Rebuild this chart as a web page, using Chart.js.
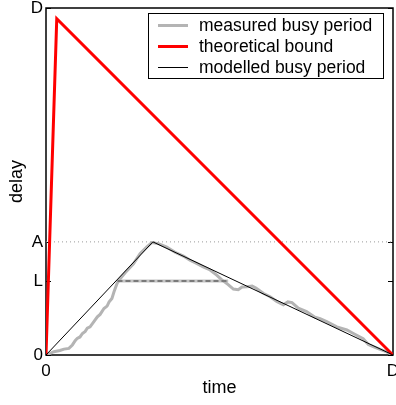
<!DOCTYPE html>
<html>
<head>
<meta charset="utf-8">
<script src="https://cdn.jsdelivr.net/npm/chart.js@4/dist/chart.umd.min.js"></script>
<style>
  html, body { margin: 0; padding: 0; background: #fff; }
  #wrap { width: 396px; height: 405px; }
</style>
</head>
<body>
<div id="wrap"><canvas id="c" width="396" height="405"></canvas></div>
<script>
// Normalised time / delay, both running from 0 to D (= 1).
const levelL = 0.213;
const levelA = 0.326;

// Axis ticks
const xTickValues = [0, 1];
const xTickLabels = ['0', 'D'];
const yTickValues = [0, levelL, levelA, 1];
const yTickLabels = ['0', 'L', 'A', 'D'];

// Measured busy period (time, delay)
const measuredTime = [0, 0.023, 0.040, 0.052, 0.066, 0.076, 0.084, 0.090, 0.098, 0.105,
  0.113, 0.119, 0.127, 0.138, 0.148, 0.156, 0.167, 0.176, 0.182, 0.190,
  0.196, 0.205, 0.213, 0.228, 0.252, 0.271, 0.290, 0.305,
  0.324, 0.348, 0.372, 0.396, 0.415, 0.434, 0.453, 0.473, 0.492, 0.506,
  0.525, 0.540, 0.554, 0.565, 0.579, 0.594, 0.605, 0.626, 0.646, 0.665,
  0.684, 0.697, 0.709, 0.727, 0.751, 0.775, 0.790, 0.809, 0.838, 0.867,
  0.886, 0.914, 0.929, 0.943, 0.963, 0.982, 1];
const measuredDelay = [0, 0.0095, 0.013, 0.017, 0.019, 0.029, 0.041, 0.048, 0.052, 0.062,
  0.068, 0.077, 0.081, 0.096, 0.110, 0.117, 0.134, 0.141, 0.153, 0.163,
  0.182, 0.207, 0.219, 0.237, 0.263, 0.292, 0.311, 0.324,
  0.321, 0.311, 0.296, 0.285, 0.273, 0.264, 0.254, 0.245, 0.230, 0.217,
  0.203, 0.190, 0.188, 0.196, 0.197, 0.199, 0.193, 0.178, 0.168, 0.154,
  0.145, 0.153, 0.151, 0.135, 0.125, 0.109, 0.105, 0.096, 0.081, 0.072,
  0.062, 0.047, 0.030, 0.024, 0.016, 0.009, 0];

// Theoretical bound (time, delay)
const boundTime = [0, 0.031, 1];
const boundDelay = [0, 0.969, 0];

// Modelled busy period (time, delay)
const modelTime = [0, 0.308, 1];
const modelDelay = [0, levelA, 0];

// Plateau of the measured period at level L
const plateauTime = [0.206, 0.525];

const pts = (xs, ys) => xs.map((x, i) => ({ x: x, y: ys[i] }));
const FONT = 'Liberation Sans, Arial, Helvetica, sans-serif';

const datasets = [
  { label: 'modelled busy period', data: pts(modelTime, modelDelay),
    borderColor: '#000000', borderWidth: 1, order: 0, inLegend: true, legendIndex: 2 },
  { label: 'theoretical bound', data: pts(boundTime, boundDelay),
    borderColor: '#ff0000', borderWidth: 3, order: 1, inLegend: true, legendIndex: 1 },
  { label: 'measured busy period', data: pts(measuredTime, measuredDelay),
    borderColor: '#b4b4b4', borderWidth: 3, order: 3, inLegend: true, legendIndex: 0 },
  { label: 'L level', data: pts(plateauTime, [levelL, levelL]),
    borderColor: '#c4c4c4', borderWidth: 3, order: 4 },
  { label: 'L level dashes', data: pts(plateauTime, [levelL, levelL]),
    borderColor: '#7a7a7a', borderWidth: 2, borderDash: [5, 3], order: 2 },
  { label: 'A level', data: pts([0, 1], [levelA, levelA]),
    borderColor: '#9a9a9a', borderWidth: 1, borderDash: [1, 3], order: 5 }
];
datasets.forEach(d => { d.showLine = true; d.pointRadius = 0; d.tension = 0; d.fill = false; });

// Box round the plot area, drawn under the data
const frame = {
  id: 'frame',
  beforeDatasetsDraw(chart) {
    const { ctx, chartArea: a } = chart;
    ctx.save();
    ctx.strokeStyle = '#000';
    ctx.lineWidth = 1.5;
    ctx.strokeRect(a.left, a.top, a.right - a.left, a.bottom - a.top);
    // inward tick marks on both vertical edges
    const ys = chart.scales.y;
    ctx.lineWidth = 1;
    yTickValues.forEach(v => {
      const py = Math.round(ys.getPixelForValue(v)) + 0.5;
      ctx.beginPath();
      ctx.moveTo(a.left, py); ctx.lineTo(a.left + 5, py);
      ctx.moveTo(a.right - 5, py); ctx.lineTo(a.right, py);
      ctx.stroke();
    });
    ctx.restore();
  }
};

// Legend box in the upper right corner
const legendBox = {
  id: 'legendBox',
  afterDatasetsDraw(chart) {
    const { ctx } = chart;
    const items = chart.data.datasets.filter(d => d.inLegend)
      .sort((a, b) => a.legendIndex - b.legendIndex);
    const x0 = 148.5, y0 = 13.5, w = 235, h = 65, rowH = 21;
    ctx.save();
    ctx.fillStyle = '#fff';
    ctx.fillRect(x0, y0, w, h);
    ctx.strokeStyle = '#000';
    ctx.lineWidth = 1;
    ctx.strokeRect(x0, y0, w, h);
    ctx.font = '17.5px ' + FONT;
    ctx.textBaseline = 'middle';
    ctx.textAlign = 'left';
    items.forEach((d, i) => {
      const cy = 25 + i * rowH;
      const ly = d.borderWidth % 2 === 1 ? Math.round(cy) + 0.5 : Math.round(cy);
      ctx.strokeStyle = d.borderColor;
      ctx.lineWidth = d.borderWidth;
      ctx.beginPath();
      ctx.moveTo(158, ly); ctx.lineTo(188, ly);
      ctx.stroke();
      ctx.fillStyle = '#000';
      ctx.fillText(d.label, 199, cy + 1);
    });
    ctx.restore();
  }
};

new Chart(document.getElementById('c'), {
  type: 'scatter',
  data: { datasets: datasets },
  options: {
    responsive: false,
    animation: false,
    events: [],
    layout: { padding: { top: 8, right: 3, left: 0, bottom: 0 } },
    plugins: { legend: { display: false }, tooltip: { enabled: false } },
    scales: {
      x: {
        type: 'linear', min: 0, max: 1,
        grid: { display: false, drawTicks: false },
        border: { display: false },
        afterBuildTicks: s => { s.ticks = xTickValues.map(v => ({ value: v })); },
        afterFit: s => { s.height = 50; s.paddingLeft = 0; s.paddingRight = 0; },
        ticks: { padding: 6, color: '#000', font: { family: FONT, size: 17 },
          maxRotation: 0, autoSkip: false,
          callback: (v, i) => xTickLabels[i] },
        title: { display: true, text: 'time', color: '#000',
          font: { family: FONT, size: 18 }, padding: { top: 0, bottom: 6 } }
      },
      y: {
        type: 'linear', min: 0, max: 1,
        grid: { display: false, drawTicks: false },
        border: { display: false },
        afterBuildTicks: s => { s.ticks = yTickValues.map(v => ({ value: v })); },
        afterFit: s => { s.width = 46; s.paddingTop = 0; s.paddingBottom = 0; },
        ticks: { padding: 3, color: '#000', font: { family: FONT, size: 17 },
          autoSkip: false,
          callback: (v, i) => yTickLabels[i] },
        title: { display: true, text: 'delay', color: '#000',
          font: { family: FONT, size: 18 }, padding: { top: 6, bottom: 0 } }
      }
    }
  },
  plugins: [frame, legendBox]
});
</script>
</body>
</html>
